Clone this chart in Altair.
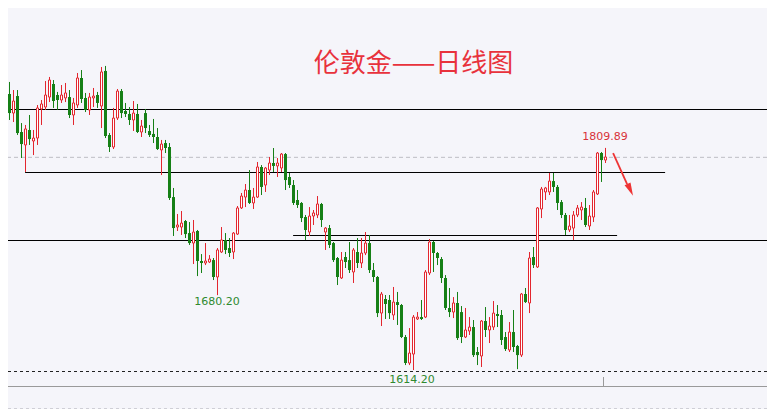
import altair as alt
import pandas as pd

# ---- daily candles (USD/oz) ----
opens = [1880.3, 1887.3, 1857.4, 1840.6, 1855.6, 1823.9, 1812.5, 1825.7, 1816.0, 1818.6,
         1844.2, 1845.9, 1854.7, 1866.2, 1856.5, 1852.1, 1853.9, 1854.7, 1838.9, 1847.7,
         1871.5, 1853.9, 1843.3, 1853.9, 1856.5, 1846.8, 1877.7, 1821.3, 1810.7, 1836.2,
         1860.0, 1842.4, 1839.8, 1834.5, 1839.8, 1823.9, 1840.6, 1824.8, 1822.2, 1819.5,
         1808.1, 1814.2, 1810.7, 1766.6, 1740.2, 1740.2, 1745.5, 1734.9, 1726.1, 1736.7,
         1710.3, 1708.5, 1709.4, 1711.1, 1696.2, 1718.2, 1728.8, 1721.7, 1718.2, 1734.0,
         1757.0, 1766.6, 1772.8, 1761.4, 1766.6, 1793.1, 1777.2, 1790.4, 1796.6, 1794.0,
         1792.2, 1804.5, 1784.3, 1777.2, 1764.0, 1761.4, 1749.0, 1735.8, 1749.9, 1750.8,
         1760.5, 1735.8, 1739.3, 1726.1, 1712.9, 1695.3, 1713.8, 1711.1, 1700.6, 1718.2,
         1708.5, 1717.3, 1726.1, 1702.3, 1696.2, 1664.4, 1676.8, 1675.9, 1662.7, 1674.1,
         1671.5, 1643.3, 1620.4, 1628.3, 1659.2, 1660.9, 1660.9, 1699.7, 1727.0, 1717.3,
         1712.0, 1695.3, 1668.9, 1665.3, 1673.3, 1665.3, 1643.3, 1648.6, 1652.1, 1630.1,
         1626.6, 1657.4, 1649.5, 1652.1, 1663.6, 1662.7, 1643.3, 1631.9, 1647.7, 1635.4,
         1627.4, 1681.2, 1673.3, 1713.8, 1705.0, 1756.1, 1771.1, 1771.1, 1780.7, 1775.5,
         1762.2, 1750.8, 1737.6, 1739.3, 1750.8, 1755.2, 1757.0, 1741.1, 1749.0, 1769.3,
         1805.4, 1799.2]
highs = [1896.2, 1889.1, 1868.0, 1860.9, 1860.9, 1831.8, 1830.1, 1838.9, 1825.7, 1847.7,
         1852.1, 1868.8, 1872.4, 1869.7, 1859.2, 1865.3, 1867.1, 1860.9, 1853.9, 1875.9,
         1878.5, 1858.3, 1858.3, 1862.7, 1859.2, 1881.2, 1882.1, 1823.0, 1845.1, 1861.8,
         1861.8, 1849.5, 1845.9, 1851.2, 1848.6, 1834.5, 1844.2, 1830.1, 1835.4, 1827.4,
         1816.9, 1816.9, 1814.2, 1774.6, 1751.7, 1754.3, 1746.4, 1744.6, 1746.4, 1737.6,
         1716.4, 1726.1, 1715.5, 1712.9, 1721.7, 1740.2, 1734.9, 1730.5, 1735.8, 1758.7,
         1770.2, 1778.1, 1790.4, 1774.6, 1797.5, 1794.8, 1793.1, 1801.9, 1809.8, 1801.0,
         1805.4, 1805.4, 1787.8, 1781.6, 1772.8, 1762.2, 1750.8, 1757.8, 1755.2, 1767.5,
         1761.4, 1740.2, 1742.0, 1727.0, 1713.8, 1718.2, 1718.2, 1727.0, 1721.7, 1730.5,
         1730.5, 1735.8, 1733.2, 1708.5, 1697.0, 1683.0, 1680.3, 1680.3, 1687.4, 1683.0,
         1672.4, 1645.1, 1651.2, 1662.7, 1665.3, 1675.9, 1702.3, 1729.6, 1727.9, 1718.2,
         1713.8, 1697.9, 1686.5, 1678.5, 1683.0, 1670.6, 1668.9, 1660.9, 1658.3, 1634.5,
         1658.3, 1669.7, 1660.9, 1675.0, 1671.5, 1667.1, 1647.7, 1656.5, 1667.1, 1636.3,
         1682.1, 1686.5, 1718.2, 1722.6, 1757.8, 1775.5, 1775.5, 1787.8, 1787.8, 1777.2,
         1764.0, 1752.6, 1750.8, 1754.3, 1759.6, 1762.2, 1765.8, 1759.6, 1772.8, 1806.3,
         1806.3, 1809.89]
lows = [1868.0, 1852.1, 1834.5, 1832.7, 1821.3, 1801.0, 1788.7, 1812.5, 1803.6, 1812.5,
        1830.1, 1843.3, 1850.3, 1845.1, 1843.3, 1849.5, 1850.3, 1836.2, 1830.1, 1845.1,
        1849.5, 1841.5, 1838.9, 1845.9, 1845.1, 1827.4, 1818.6, 1806.3, 1808.9, 1834.5,
        1836.2, 1837.1, 1830.1, 1824.8, 1823.0, 1819.5, 1823.0, 1819.5, 1814.2, 1808.1,
        1786.0, 1805.4, 1764.0, 1732.3, 1736.7, 1733.2, 1730.5, 1724.4, 1707.6, 1697.0,
        1699.7, 1706.7, 1708.5, 1693.5, 1680.2, 1717.3, 1716.4, 1713.8, 1712.0, 1733.2,
        1756.1, 1757.8, 1760.5, 1756.1, 1765.8, 1768.4, 1771.1, 1786.0, 1788.7, 1784.3,
        1788.7, 1772.8, 1774.6, 1759.6, 1757.0, 1744.6, 1728.8, 1732.3, 1742.0, 1748.1,
        1740.2, 1720.0, 1721.7, 1709.4, 1689.1, 1694.4, 1704.1, 1699.7, 1690.9, 1704.1,
        1704.1, 1715.5, 1699.7, 1691.8, 1660.9, 1653.0, 1659.2, 1659.2, 1658.3, 1653.9,
        1642.4, 1618.6, 1618.6, 1614.2, 1658.3, 1658.3, 1660.0, 1697.9, 1700.6, 1706.7,
        1690.9, 1667.1, 1660.9, 1660.0, 1640.7, 1638.0, 1642.4, 1645.1, 1625.7, 1618.6,
        1616.9, 1643.3, 1638.0, 1649.5, 1652.1, 1636.3, 1631.0, 1630.1, 1630.1, 1615.0,
        1625.7, 1673.3, 1664.4, 1704.1, 1704.1, 1748.1, 1764.0, 1768.4, 1771.1, 1755.2,
        1748.1, 1733.2, 1735.8, 1728.8, 1749.0, 1746.4, 1740.2, 1737.6, 1744.6, 1768.4,
        1779.9, 1796.6]
closes = [1885.6, 1854.7, 1840.6, 1851.2, 1823.0, 1813.3, 1826.6, 1817.7, 1818.6, 1845.1,
          1848.6, 1856.5, 1869.7, 1851.2, 1852.1, 1856.5, 1858.3, 1838.9, 1849.5, 1871.5,
          1853.0, 1843.3, 1854.7, 1855.6, 1849.5, 1876.8, 1820.4, 1810.7, 1836.2, 1860.0,
          1840.6, 1839.8, 1834.5, 1840.6, 1823.9, 1829.2, 1827.4, 1821.3, 1819.5, 1808.9,
          1813.3, 1809.8, 1765.8, 1739.3, 1742.0, 1743.7, 1734.0, 1726.1, 1735.8, 1710.3,
          1708.5, 1710.3, 1712.0, 1696.2, 1720.0, 1728.8, 1720.0, 1717.3, 1734.9, 1757.0,
          1767.5, 1772.8, 1761.4, 1766.6, 1793.1, 1775.5, 1792.2, 1796.6, 1794.0, 1796.6,
          1804.5, 1781.6, 1777.2, 1761.4, 1759.6, 1748.1, 1737.6, 1749.9, 1752.6, 1760.5,
          1746.4, 1739.3, 1724.4, 1711.1, 1696.2, 1711.1, 1709.4, 1702.3, 1720.0, 1708.5,
          1717.3, 1726.1, 1702.3, 1696.2, 1664.4, 1681.2, 1672.4, 1664.4, 1674.1, 1671.5,
          1643.3, 1620.4, 1629.2, 1660.9, 1660.9, 1659.2, 1700.6, 1727.0, 1717.3, 1712.9,
          1695.3, 1668.9, 1665.3, 1673.3, 1642.4, 1643.3, 1649.5, 1652.1, 1627.4, 1627.4,
          1657.4, 1649.5, 1653.0, 1664.4, 1661.8, 1640.7, 1632.7, 1647.7, 1634.5, 1627.4,
          1681.2, 1674.1, 1712.9, 1706.7, 1757.0, 1773.7, 1774.6, 1780.7, 1775.5, 1761.4,
          1750.8, 1737.6, 1741.1, 1750.8, 1757.0, 1757.8, 1742.0, 1749.9, 1771.1, 1805.4,
          1799.2, 1801.9]

# ---- drawn levels (price) ----
full_levels = [1843.7, 1728.3]
seg_levels = [1788.2, 1732.7]
seg_from = [5.9, 72.9]
seg_to = [165.9, 153.9]
last_price = 1801.6

# ---- annotations ----
label_text = ["1680.20", "1614.20", "1809.89"]
label_idx = [53.9, 102.6, 150.9]
label_price = [1674.1, 1605.4, 1819.5]
title_text = "伦敦金——日线图"

RED = "#e3262e"
GREEN = "#168016"
BG = "#f5f5fa"
W, H = 759, 401

df = pd.DataFrame({"idx": list(range(len(opens))), "open": opens, "high": highs,
                   "low": lows, "close": closes})
df["dir"] = ["up" if c > o else "down" for o, c in zip(opens, closes)]

xs = alt.Scale(domain=[1.625, 191.375], nice=False, zero=False, padding=0)
ys = alt.Scale(domain=[1579.9, 1933.15], nice=False, zero=False, padding=0)

X = alt.X("idx:Q", scale=xs, axis=None)

base = alt.Chart(df)
wicks = base.mark_rule(strokeWidth=1, clip=True).encode(
    x=X,
    y=alt.Y("low:Q", scale=ys, axis=None),
    y2="high:Q",
    color=alt.Color("dir:N", scale=alt.Scale(domain=["up", "down"], range=[RED, GREEN]), legend=None),
)
down_bodies = base.transform_filter("datum.dir == 'down'").mark_bar(
    size=3, color=GREEN, clip=True).encode(
    x=X, y=alt.Y("open:Q", scale=ys, axis=None), y2="close:Q")
up_bodies = base.transform_filter("datum.dir == 'up'").mark_bar(
    size=2, fill="#ffffff", stroke=RED, strokeWidth=1, clip=True).encode(
    x=X, y=alt.Y("open:Q", scale=ys, axis=None), y2="close:Q")

full_df = pd.DataFrame({"price": full_levels})
full_lines = alt.Chart(full_df).mark_rule(color="#000000", strokeWidth=1.1).encode(
    y=alt.Y("price:Q", scale=ys, axis=None))

seg_df = pd.DataFrame({"price": seg_levels, "x0": seg_from, "x1": seg_to})
seg_lines = alt.Chart(seg_df).mark_rule(color="#000000", strokeWidth=1.1).encode(
    x=alt.X("x0:Q", scale=xs, axis=None), x2="x1:Q",
    y=alt.Y("price:Q", scale=ys, axis=None))

last_df = pd.DataFrame({"price": [last_price]})
last_line = alt.Chart(last_df).mark_rule(color="#bdbdc4", strokeWidth=1, strokeDash=[4, 3]).encode(
    y=alt.Y("price:Q", scale=ys, axis=None))

# frame decorations at the bottom
deco_df = pd.DataFrame({"k": [0]})
low_dash = alt.Chart(deco_df).mark_rule(color="#222222", strokeWidth=1, strokeDash=[3, 3]).encode(
    x=alt.value(0), x2=alt.value(W), y=alt.value(363.5))
axis_line = alt.Chart(deco_df).mark_rule(color="#9a9a9a", strokeWidth=1).encode(
    x=alt.value(0), x2=alt.value(W), y=alt.value(378.5))
axis_tick = alt.Chart(deco_df).mark_rule(color="#9a9a9a", strokeWidth=1).encode(
    x=alt.value(595.5), y=alt.value(369), y2=alt.value(378))
bottom_dash = alt.Chart(deco_df).mark_rule(color="#cfcfd6", strokeWidth=1, strokeDash=[3, 3]).encode(
    x=alt.value(0), x2=alt.value(W), y=alt.value(400.5))

lab_df = pd.DataFrame({"idx": label_idx, "price": label_price, "text": label_text,
                       "col": ["#2f8a2f", "#2f8a2f", "#d8323a"]})
labels = alt.Chart(lab_df).mark_text(font="DejaVu Sans", fontSize=11, baseline="middle",
                                     align="center").encode(
    x=alt.X("idx:Q", scale=xs, axis=None),
    y=alt.Y("price:Q", scale=ys, axis=None),
    text="text:N",
    color=alt.Color("col:N", scale=None),
)

arrow_df = pd.DataFrame({"x0": [152.9], "y0": [1805.4], "x1": [156.4], "y1": [1778.1]})
arrow_line = alt.Chart(arrow_df).mark_rule(color="#ee3434", strokeWidth=1.8).encode(
    x=alt.X("x0:Q", scale=xs, axis=None), x2="x1:Q",
    y=alt.Y("y0:Q", scale=ys, axis=None), y2="y1:Q")
head_df = pd.DataFrame({"x": [157.2], "y": [1773.0]})
arrow_head = alt.Chart(head_df).mark_point(
    shape="M0,-1L0.5,1L-0.5,1Z", filled=True, size=170, angle=155, color="#ee3434", opacity=1).encode(
    x=alt.X("x:Q", scale=xs, axis=None), y=alt.Y("y:Q", scale=ys, axis=None))

title_df = pd.DataFrame({"t": [title_text]})
title = alt.Chart(title_df).mark_text(font="Noto Sans CJK SC", fontSize=26, color="#e8323c",
                                      baseline="middle", align="center").encode(
    text="t:N", x=alt.value(405.5), y=alt.value(55.5))

chart = alt.layer(
    last_line, bottom_dash, axis_line, axis_tick, low_dash,
    full_lines, seg_lines,
    wicks, down_bodies, up_bodies,
    labels, arrow_line, arrow_head, title,
).properties(
    width=W, height=H,
    autosize=alt.AutoSizeParams(type="none"),
    padding=0,
    background=BG,
).configure_view(stroke=None)

chart.save("out.html", embed_options={"renderer": "svg", "actions": False})
